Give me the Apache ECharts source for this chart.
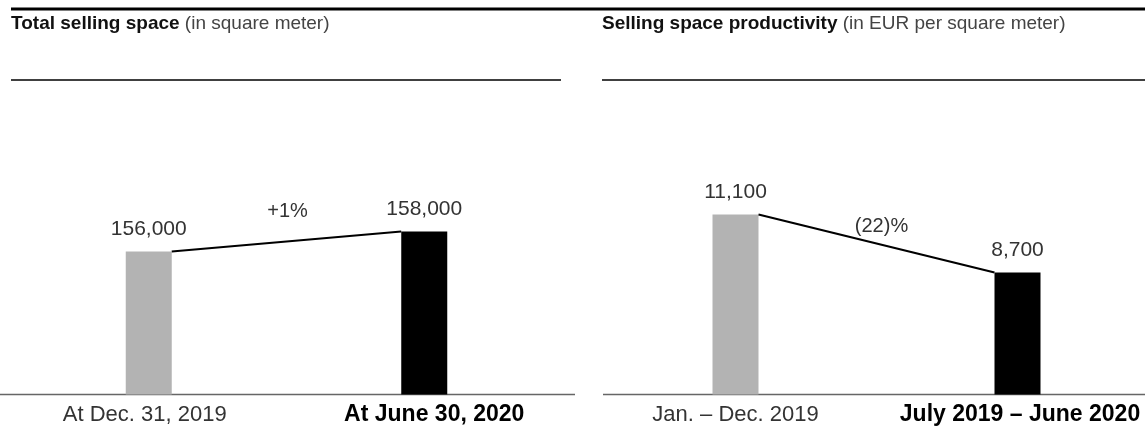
<!DOCTYPE html>
<html><head><meta charset="utf-8">
<script src="https://cdn.jsdelivr.net/npm/echarts@6/dist/echarts.min.js"></script>
<style>html,body{margin:0;padding:0;background:#fff}#c{width:1145px;height:442px}</style>
</head><body><div id="c"></div>
<script>
// ---- data ----
const leftTitleBold = 'Total selling space';
const leftTitleRest = ' (in square meter)';
const leftCategories = ['At Dec. 31, 2019', 'At June 30, 2020'];
const leftValues = [156000, 158000];
const leftLabels = ['156,000', '158,000'];
const leftChange = '+1%';

const rightTitleBold = 'Selling space productivity';
const rightTitleRest = ' (in EUR per square meter)';
const rightCategories = ['Jan. – Dec. 2019', 'July 2019 – June 2020'];
const rightValues = [11100, 8700];
const rightLabels = ['11,100', '8,700'];
const rightChange = '(22)%';

// axis ranges (the original does not start its bars at zero)
const leftRange = [141700, 171150];
const rightRange = [3652, 15838];

const barColors = ['#b3b3b3', '#000000'];
const FONT = '"Liberation Sans", Arial, sans-serif';

function connector(values, changeText, labelLift, labelShift) {
  return function (params, api) {
    const bw = 46;
    const p1 = api.coord([0, values[0]]);
    const p2 = api.coord([1, values[1]]);
    const x1 = p1[0] + bw / 2, y1 = p1[1];
    const x2 = p2[0] - bw / 2, y2 = p2[1];
    return {
      type: 'group',
      children: [
        { type: 'line', shape: { x1, y1, x2, y2 }, style: { stroke: '#000', lineWidth: 2.2 } },
        { type: 'text', x: (x1 + x2) / 2 + labelShift, y: (y1 + y2) / 2 - labelLift,
          style: { text: changeText, fill: '#333', font: '20px ' + FONT, align: 'center', verticalAlign: 'middle' } }
      ]
    };
  };
}

function catLabel(shiftA, shiftB) {
  return {
    color: '#333', fontFamily: FONT, margin: 9, interval: 0,
    formatter: (v, i) => i === 0 ? '{a|' + v + '}' : '{b|' + v + '}',
    rich: {
      a: { fontSize: 22, color: '#333', fontFamily: FONT, padding: shiftA },
      b: { fontSize: 23, color: '#000', fontWeight: 'bold', fontFamily: FONT, padding: shiftB }
    }
  };
}

const chart = echarts.init(document.getElementById('c'));
chart.setOption({
  animation: false,
  grid: [
    { left: 11, width: 551, top: 100, bottom: 47.5, outerBoundsMode: 'none' },
    { left: 594.5, width: 564, top: 100, bottom: 47.5, outerBoundsMode: 'none' }
  ],
  xAxis: [
    { type: 'category', gridIndex: 0, data: leftCategories, axisLine: { show: false }, axisTick: { show: false },
      axisLabel: catLabel([0, 8, 0, 0], [0, 0, 0, 20]) },
    { type: 'category', gridIndex: 1, data: rightCategories, axisLine: { show: false }, axisTick: { show: false },
      axisLabel: catLabel([0, 0, 0, 0], [0, 0, 0, 5]) }
  ],
  yAxis: [
    { type: 'value', gridIndex: 0, min: leftRange[0], max: leftRange[1], show: false, splitLine: { show: false } },
    { type: 'value', gridIndex: 1, min: rightRange[0], max: rightRange[1], show: false, splitLine: { show: false } }
  ],
  graphic: [
    { type: 'line', shape: { x1: 11, y1: 9, x2: 1145, y2: 9 }, style: { stroke: '#000', lineWidth: 3 } },
    { type: 'line', shape: { x1: 11, y1: 80, x2: 561, y2: 80 }, style: { stroke: '#000', lineWidth: 1.6 } },
    { type: 'line', shape: { x1: 602, y1: 80, x2: 1145, y2: 80 }, style: { stroke: '#000', lineWidth: 1.6 } },
    { type: 'line', shape: { x1: 0, y1: 394.5, x2: 575, y2: 394.5 }, style: { stroke: '#666', lineWidth: 1.6 } },
    { type: 'line', shape: { x1: 603, y1: 394.5, x2: 1145, y2: 394.5 }, style: { stroke: '#666', lineWidth: 1.6 } },
    { type: 'text', left: 11, top: 14, style: { text: '{b|' + leftTitleBold + '}{r|' + leftTitleRest + '}',
      rich: { b: { font: 'bold 19px ' + FONT, fill: '#111' }, r: { font: '19px ' + FONT, fill: '#444' } } } },
    { type: 'text', left: 602, top: 14, style: { text: '{b|' + rightTitleBold + '}{r|' + rightTitleRest + '}',
      rich: { b: { font: 'bold 19px ' + FONT, fill: '#111' }, r: { font: '19px ' + FONT, fill: '#444' } } } }
  ],
  series: [
    { type: 'bar', xAxisIndex: 0, yAxisIndex: 0, barWidth: 46,
      data: leftValues.map((v, i) => ({ value: v, itemStyle: { color: barColors[i] } })),
      label: { show: true, position: 'top', distance: 12, fontSize: 21, color: '#333', fontFamily: FONT,
        formatter: p => leftLabels[p.dataIndex] } },
    { type: 'bar', xAxisIndex: 1, yAxisIndex: 1, barWidth: 46,
      data: rightValues.map((v, i) => ({ value: v, itemStyle: { color: barColors[i] } })),
      label: { show: true, position: 'top', distance: 12, fontSize: 21, color: '#333', fontFamily: FONT,
        formatter: p => rightLabels[p.dataIndex] } },
    { type: 'custom', xAxisIndex: 0, yAxisIndex: 0, data: [0], z: 5,
      renderItem: connector(leftValues, leftChange, 30, 1) },
    { type: 'custom', xAxisIndex: 1, yAxisIndex: 1, data: [0], z: 5,
      renderItem: connector(rightValues, rightChange, 17, 5) }
  ]
});
</script>
</body></html>
